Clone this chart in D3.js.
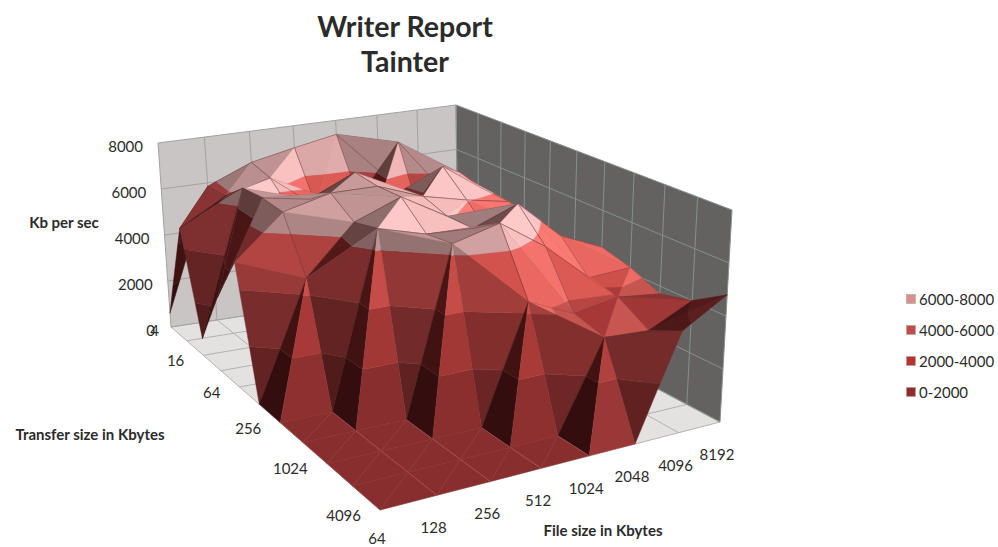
<!DOCTYPE html>
<html>
<head>
<meta charset="utf-8">
<style>
html,body{margin:0;padding:0;background:#fff;}
svg{display:block;}
text{font-family:Lato,"Open Sans",sans-serif;fill:#2b2b2b;}
</style>
<script src="https://cdn.jsdelivr.net/npm/d3@7"></script>
</head>
<body>
<svg id="chart" width="998" height="547"></svg>
<script>
// Write throughput in Kb/s, one list per transfer size, ordered by file size.
const fileSizes = [64,128,256,512,1024,2048,4096,8192];
const transferSizes = [4,8,16,32,64,128,256,512,1024,2048,4096];
const kb4    = [600,5850,6640,7030,7380,5500,4500,4200];
const kb8    = [4800,5900,6400,4900,5000,7200,5000,4500];
const kb16   = [700,6700,5500,5600,5200,4200,6000,4500];
const kb32   = [3000,6780,6440,7280,4800,7000,5750,4400];
const kb64   = [5000,6700,7180,7170,6470,6040,5700,4000];
const kb128  = [0,4600,6500,7220,6140,5000,5000,4100];
const kb256  = [0,0,6770,6240,6160,6850,5250,4500];
const kb512  = [0,0,0,6400,6880,5650,4100,4200];
const kb1024 = [0,0,0,0,4400,3600,3900,3700];
const kb2048 = [0,0,0,0,0,3300,3200,4000];
const kb4096 = [0,0,0,0,0,0,3800,4800];
const rows = [kb4,kb8,kb16,kb32,kb64,kb128,kb256,kb512,kb1024,kb2048,kb4096];

const zTicks = [0,2000,4000,6000,8000];
const transferTicks = [4,16,64,256,1024,4096];
const bandLabels = ["6000-8000","4000-6000","2000-4000","0-2000"];
const bandSwatches = ["#d98f8f","#c14c4c","#b8322f","#8f2b2f"];

const svg = d3.select("#chart");

// Category and value scales into the unit box of the plot.
const uScale = d3.scalePoint().domain(fileSizes).range([0,1]);
const vScale = d3.scalePoint().domain(transferSizes).range([0,1]);
const wScale = d3.scaleLinear().domain([0,8000]).range([0,1]);

// Unit square to quadrilateral, for the perspective of the box.
function homography(q){
  const [[x0,y0],[x1,y1],[x2,y2],[x3,y3]] = q;
  const dx1=x1-x2, dx2=x3-x2, sx=x0-x1+x2-x3;
  const dy1=y1-y2, dy2=y3-y2, sy=y0-y1+y2-y3;
  const den=dx1*dy2-dx2*dy1;
  const g=(sx*dy2-dx2*sy)/den, h=(dx1*sy-sx*dy1)/den;
  const a=x1-x0+g*x1, b=x3-x0+h*x3, d=y1-y0+g*y1, e=y3-y0+h*y3;
  return (u,v)=>{
    const w=g*u+h*v+1;
    return [(a*u+b*v+x0)/w,(d*u+e*v+y0)/w];
  };
}
const floorMap = homography([[171,327],[458,283],[720,422],[380,510]]);
const ceilMap  = homography([[158,143],[456,105],[732,210],[377,275]]);
function project(u,v,w){
  const a=floorMap(u,v), b=ceilMap(u,v);
  return [a[0]+(b[0]-a[0])*w, a[1]+(b[1]-a[1])*w];
}
const path = pts => "M"+pts.map(p=>p[0].toFixed(1)+","+p[1].toFixed(1)).join("L")+"Z";
const linePath = pts => "M"+pts.map(p=>p[0].toFixed(1)+","+p[1].toFixed(1)).join("L");

// Walls and floor
const walls = svg.append("g");
walls.append("path").attr("fill","#c9c5c5").attr("d",path([project(0,0,0),project(1,0,0),project(1,0,1),project(0,0,1)]));
walls.append("path").attr("fill","#646260").attr("d",path([project(1,0,0),project(1,1,0),project(1,1,1),project(1,0,1)]));
walls.append("path").attr("fill","#e4e1e1").attr("d",path([project(0,0,0),project(1,0,0),project(1,1,0),project(0,1,0)]));
fileSizes.forEach(f=>{
  const u=uScale(f);
  walls.append("path").attr("stroke","#a3a1a1").attr("fill","none").attr("d",linePath([project(u,0,0),project(u,0,1)]));
  walls.append("path").attr("stroke","#b4b1b1").attr("fill","none").attr("d",linePath([project(u,0,0),project(u,1,0)]));
});
transferSizes.forEach(t=>{
  const v=vScale(t);
  walls.append("path").attr("stroke","#86908e").attr("fill","none").attr("d",linePath([project(1,v,0),project(1,v,1)]));
  walls.append("path").attr("stroke","#b4b1b1").attr("fill","none").attr("d",linePath([project(0,v,0),project(1,v,0)]));
});
zTicks.forEach(z=>{
  const w=wScale(z);
  walls.append("path").attr("stroke","#a3a1a1").attr("fill","none").attr("d",linePath([project(0,0,w),project(1,0,w)]));
  walls.append("path").attr("stroke","#86908e").attr("fill","none").attr("d",linePath([project(1,0,w),project(1,1,w)]));
});

// Colour of a facet: one ramp per value band, driven by the facet's lighting.
const lightStops = [0,.3,.75,.88,1];
const ramps = [
  d3.scaleLinear().domain(lightStops).range(["#340e0e","#571e1e","#8f3030","#b04a45","#c05a55"]),
  d3.scaleLinear().domain(lightStops).range(["#411212","#692727","#a83a38","#c4504b","#d0605a"]),
  d3.scaleLinear().domain(lightStops).range(["#4a1515","#863333","#cc4f49","#e8645e","#ff8078"]),
  d3.scaleLinear().domain(lightStops).range(["#5e3c3c","#8b6a6a","#c89a9a","#f4b8b8","#ffcaca"])
];
const light = [0.4,0.6,0.69];
function shade(a,b,c){
  const sc = p=>[p.i, p.j*0.7, p.z*5/8000];
  const A=sc(a),B=sc(b),C=sc(c);
  const e=[B[0]-A[0],B[1]-A[1],B[2]-A[2]], f=[C[0]-A[0],C[1]-A[1],C[2]-A[2]];
  let n=[e[1]*f[2]-e[2]*f[1],e[2]*f[0]-e[0]*f[2],e[0]*f[1]-e[1]*f[0]];
  if(n[2]<0) n=n.map(x=>-x);
  const l=Math.hypot(...n);
  const s=(n[0]*light[0]+n[1]*light[1]+n[2]*light[2])/l;
  return Math.max(0,Math.min(1,s));
}
// Keep the part of a triangle that lies between two values.
function clipBand(tri,lo,hi){
  const cut=(poly,limit,keep)=>{
    const out=[];
    poly.forEach((p,k)=>{
      const q=poly[(k+1)%poly.length];
      const pin=keep(p.z), qin=keep(q.z);
      if(pin) out.push(p);
      if(pin!==qin){
        const t=(limit-p.z)/(q.z-p.z);
        out.push({i:p.i+(q.i-p.i)*t,j:p.j+(q.j-p.j)*t,z:limit});
      }
    });
    return out;
  };
  let poly=cut(tri,lo,z=>z>=lo);
  if(poly.length) poly=cut(poly,hi,z=>z<=hi);
  return poly;
}
const screen = p=>{
  const n=fileSizes.length-1, m=transferSizes.length-1;
  return project(p.i/n, p.j/m, wScale(p.z));
};

const surface = svg.append("g");
const lineOpacity = d3.scaleLinear().domain([0,3500,6000]).range([.1,.1,.45]).clamp(true);
function drawEdge(a,b){
  const z=(a.z+b.z)/2;
  // On the zero floor only the lines running along the transfer axis show.
  if(z<1 && a.j===b.j) return;
  surface.append("path").attr("fill","none")
    .attr("stroke", z<1?"#f0a8a0":"#603030").attr("stroke-opacity",z<1?.18:lineOpacity(z)).attr("stroke-width",1)
    .attr("d",linePath([screen(a),screen(b)]));
}
const vertex=(i,j)=>({i,j,z:rows[j][i]});

// Cells are painted from the far corner towards the viewer.
for(let i=fileSizes.length-2;i>=0;i--){
  for(let j=0;j<transferSizes.length-1;j++){
    const a=vertex(i,j), b=vertex(i+1,j), c=vertex(i,j+1), d=vertex(i+1,j+1);
    // Split along the higher diagonal, so ridges stay sharp.
    const tris = (b.z+c.z>=a.z+d.z) ? [[a,b,c],[b,d,c]] : [[a,b,d],[a,d,c]];
    tris.sort((p,q)=>d3.sum(p,x=>x.j-x.i)-d3.sum(q,x=>x.j-x.i));
    tris.forEach(t=>{
      const s=shade(t[0],t[1],t[2]);
      ramps.forEach((ramp,k)=>{
        const poly=clipBand(t,k*2000,(k+1)*2000);
        if(poly.length<3) return;
        const col=ramp(s);
        surface.append("path").attr("d",path(poly.map(screen))).attr("fill",col).attr("stroke",col).attr("stroke-width",.4);
      });
    });
    [[a,b],[a,c],[b,d],[c,d]].forEach(e=>drawEdge(e[0],e[1]));
  }
}

// Axis labels
const labels = svg.append("g").attr("font-size",15);
zTicks.forEach(z=>{
  const p=project(0,0,wScale(z));
  labels.append("text").attr("x",p[0]-(z===0?16:15)).attr("y",p[1]+8.5).attr("text-anchor","end").text(z);
});
transferTicks.forEach((t,k)=>{
  const p=project(0,vScale(t),0);
  labels.append("text").attr("x",p[0]-(k===0?12:19)).attr("y",p[1]+(k===0?9:11)).attr("text-anchor","end").text(t);
});
fileSizes.forEach(f=>{
  const p=project(uScale(f),1,0);
  labels.append("text").attr("x",p[0]-3).attr("y",Math.min(p[1]+38,544)).attr("text-anchor","middle").text(f);
});

const titles = svg.append("g").attr("font-weight","700");
titles.append("text").attr("x",405).attr("y",37).attr("text-anchor","middle").attr("font-size",28.5).text("Writer Report");
titles.append("text").attr("x",405).attr("y",72).attr("text-anchor","middle").attr("font-size",28.5).text("Tainter");
titles.append("text").attr("x",64).attr("y",228).attr("text-anchor","middle").attr("font-size",15).text("Kb per sec");
titles.append("text").attr("x",90).attr("y",440).attr("text-anchor","middle").attr("font-size",15).text("Transfer size  in Kbytes");
titles.append("text").attr("x",603).attr("y",536).attr("text-anchor","middle").attr("font-size",15).text("File size  in Kbytes");

// Legend
const legendY = d3.scalePoint().domain(bandLabels).range([299,392]);
const legend = svg.append("g");
bandLabels.forEach((b,k)=>{
  const y=legendY(b);
  legend.append("rect").attr("x",906.5).attr("y",y-4.5).attr("width",9).attr("height",9)
    .attr("fill",bandSwatches[k]).attr("stroke","#a9a0a0").attr("stroke-width",.6);
  legend.append("text").attr("x",919).attr("y",y+5.5).attr("font-size",15).text(b);
});
</script>
</body>
</html>
